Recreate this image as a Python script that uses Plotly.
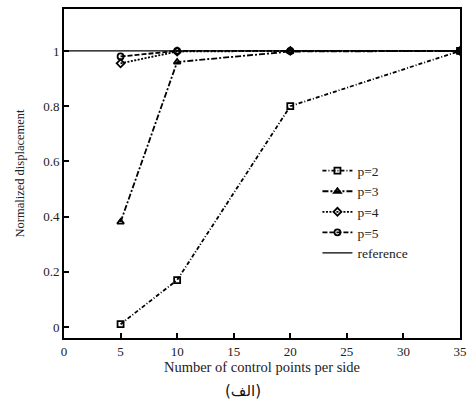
import plotly.graph_objects as go

# Convergence of normalized displacement vs. control points per side
control_points = [5, 10, 20, 35]
disp_p2 = [0.01, 0.17, 0.80, 1.0]
disp_p3 = [0.38, 0.96, 0.998, 1.0]
disp_p4 = [0.955, 0.998, 1.0, 1.0]
disp_p5 = [0.98, 1.0, 1.0, 1.0]
reference_x = [0, 35]
reference_y = [1.0, 1.0]

series = [
    ("p=2", disp_p2, "square-open", "4px,2px,1px,2px"),
    ("p=3", disp_p3, "triangle-up-open", "6px,2px,2px,2px"),
    ("p=4", disp_p4, "diamond-open", "2px,1.5px"),
    ("p=5", disp_p5, "circle-open", "5px,2px"),
]

serif = "Liberation Serif, Times New Roman, serif"

fig = go.Figure()
for name, vals, sym, dash in series:
    fig.add_trace(go.Scatter(
        x=control_points, y=vals, name=name, mode="lines+markers",
        line=dict(color="black", width=1.8, dash=dash),
        marker=dict(symbol=sym, size=6, color="black",
                    line=dict(color="black", width=1.8)),
    ))
fig.add_trace(go.Scatter(
    x=reference_x, y=reference_y, name="reference", mode="lines",
    line=dict(color="black", width=1.3),
))

fig.update_layout(
    width=474, height=405,
    margin=dict(l=64, r=7, t=7, b=67),
    paper_bgcolor="white", plot_bgcolor="white",
    font=dict(family=serif, size=13, color="#222"),
    showlegend=True,
    legend=dict(
        x=0.64, y=0.555, xanchor="left", yanchor="top",
        bgcolor="rgba(0,0,0,0)", tracegroupgap=0,
        font=dict(family=serif, size=13.5, color="#222"),
    ),
    annotations=[dict(
        text="(الف)", x=0.452, y=-0.128, xref="paper", yref="paper",
        xanchor="center", yanchor="top", showarrow=False,
        font=dict(family="DejaVu Sans, Noto Sans, sans-serif", size=15, color="#111"),
    )],
)
fig.update_xaxes(
    range=[0, 35], tickvals=[0, 5, 10, 15, 20, 25, 30, 35],
    ticks="inside", ticklen=5, tickwidth=1.5, tickcolor="black",
    showline=True, linecolor="black", linewidth=2, mirror=True,
    showgrid=False, zeroline=False,
    title=dict(text="Number of control points per side", standoff=0,
               font=dict(family=serif, size=14.5)),
    tickfont=dict(family=serif, size=13),
)
fig.update_yaxes(
    range=[-0.04, 1.152], tickvals=[0, 0.2, 0.4, 0.6, 0.8, 1],
    ticktext=["0", "0.2", "0.4", "0.6", "0.8", "1"],
    ticks="inside", ticklen=5, tickwidth=1.5, tickcolor="black",
    showline=True, linecolor="black", linewidth=2, mirror=True,
    showgrid=False, zeroline=False,
    title=dict(text="Normalized displacement", standoff=16,
               font=dict(family=serif, size=12.5)),
    tickfont=dict(family=serif, size=13),
)

fig.write_html("out.html")
